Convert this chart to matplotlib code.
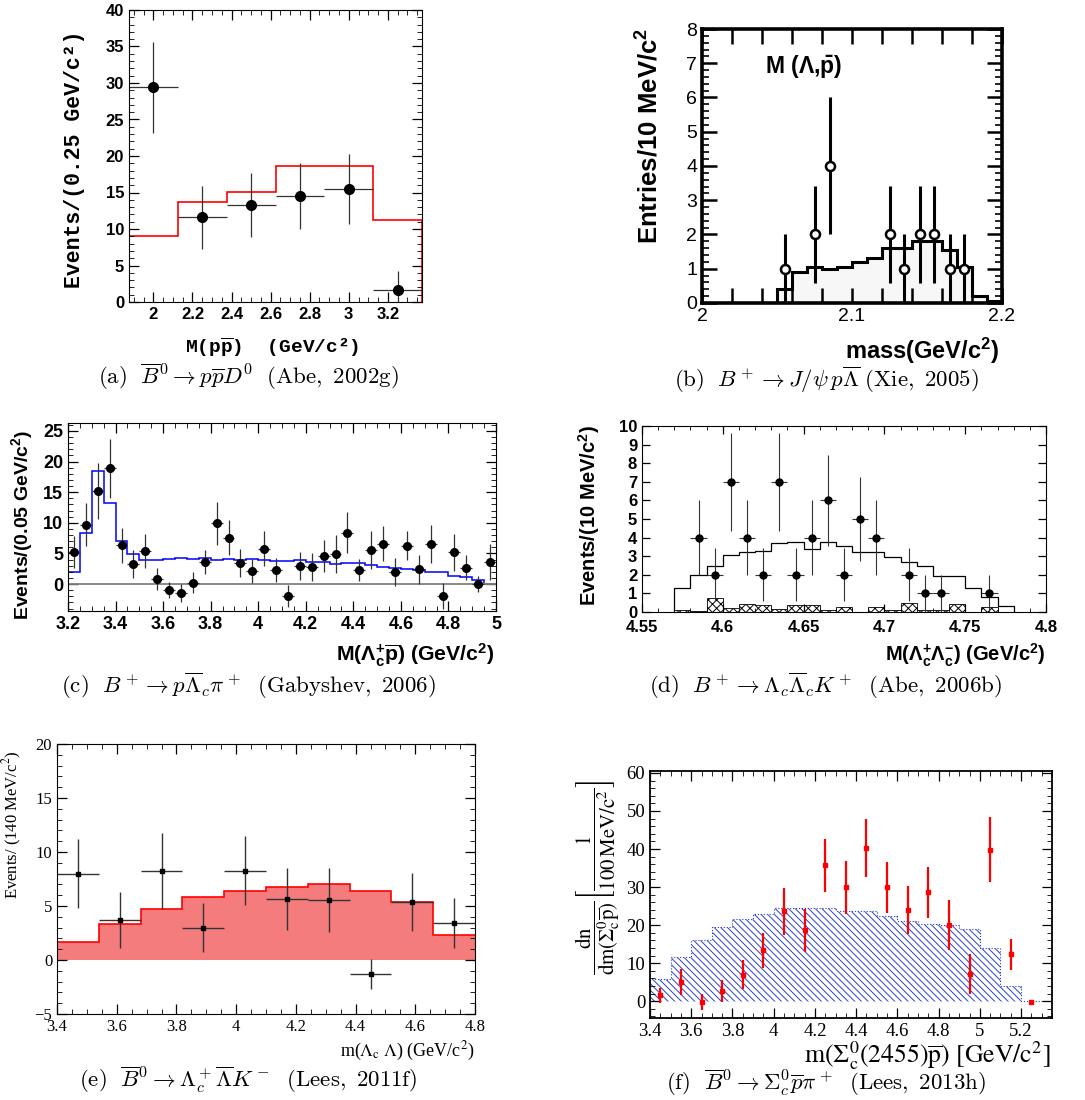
import numpy as np
import matplotlib
matplotlib.use("Agg")
import matplotlib.pyplot as plt
from matplotlib.ticker import MultipleLocator, FixedLocator, FuncFormatter

plt.rcParams.update({
    "mathtext.fontset": "custom",
    "mathtext.rm": "Liberation Sans:bold",
    "mathtext.it": "Liberation Sans:italic:bold",
    "mathtext.bf": "Liberation Sans:bold",
    "mathtext.tt": "Liberation Mono:bold",
    "hatch.linewidth": 0.7,
})

# ---------- (a) Abe 2002g ----------
a_x = [2.0, 2.25, 2.5, 2.75, 3.0, 3.25]
a_y = [29.4, 11.6, 13.3, 14.5, 15.5, 1.7]
a_err = [6.2, 4.3, 4.4, 4.5, 4.8, 2.6]
a_edges = [1.875, 2.125, 2.375, 2.625, 2.875, 3.125, 3.375]
a_fit = [9.1, 13.75, 15.1, 18.6, 18.6, 11.2]

# ---------- (b) Xie 2005 ----------
b_x = [2.055, 2.075, 2.085, 2.125, 2.135, 2.145, 2.155, 2.165, 2.175]
b_y = [1, 2, 4, 2, 1, 2, 2, 1, 1]
b_edges = [2.0, 2.05, 2.06, 2.07, 2.08, 2.09, 2.10, 2.11, 2.12, 2.13, 2.14,
           2.15, 2.16, 2.17, 2.18, 2.19, 2.20]
b_mc = [0.0, 0.4, 0.9, 1.05, 1.0, 1.05, 1.2, 1.3, 1.6, 1.6, 1.8, 1.8, 1.55,
        1.05, 0.2, 0.05]

# ---------- (c) Gabyshev 2006 ----------
c_x = [3.225, 3.275, 3.325, 3.375, 3.425, 3.475, 3.525, 3.575, 3.625, 3.675,
       3.725, 3.775, 3.825, 3.875, 3.925, 3.975, 4.025, 4.075, 4.125, 4.175,
       4.225, 4.275, 4.325, 4.375, 4.425, 4.475, 4.525, 4.575, 4.625, 4.675,
       4.725, 4.775, 4.825, 4.875, 4.925, 4.975]
c_y = [5.3, 9.7, 15.2, 18.9, 6.3, 3.3, 5.4, 0.9, -1.0, -1.5,
       0.2, 3.6, 9.9, 7.6, 3.4, 2.1, 5.8, 2.3, -2.0, 2.9,
       2.8, 4.6, 4.9, 8.4, 2.3, 5.5, 6.6, 2.0, 6.25, 2.4,
       6.6, -2.0, 5.2, 2.7, 0.05, 3.6]
c_err = [2.6, 3.5, 4.5, 4.8, 2.9, 2.3, 2.7, 1.8, 1.3, 1.5,
         1.7, 2.0, 3.5, 2.8, 2.3, 2.0, 2.9, 2.0, 1.8, 2.3,
         2.3, 2.6, 3.1, 3.4, 1.8, 3.1, 2.9, 2.3, 2.4, 2.4,
         3.1, 2.1, 3.0, 2.0, 1.3, 3.0]
c_edges = [3.2, 3.25, 3.3, 3.35, 3.4, 3.45, 3.5, 3.55, 3.6, 3.65, 3.7, 3.75,
           3.8, 3.85, 3.9, 3.95, 4.0, 4.05, 4.1, 4.15, 4.2, 4.25, 4.3, 4.35,
           4.4, 4.45, 4.5, 4.55, 4.6, 4.65, 4.7, 4.75, 4.8, 4.85, 4.9, 4.95, 5.0]
c_fit = [2.0, 8.3, 18.4, 13.3, 7.1, 4.9, 4.0, 4.0, 4.1, 4.2, 4.1, 4.2,
         4.0, 4.1, 4.0, 4.1, 4.0, 3.8, 3.7, 3.9, 3.6, 3.6, 3.2, 3.5,
         3.4, 3.1, 2.8, 2.6, 2.4, 2.3, 1.9, 1.9, 1.3, 1.1, 0.6, 0.0]

# ---------- (d) Abe 2006b ----------
d_x = [4.585, 4.595, 4.605, 4.615, 4.625, 4.635, 4.645, 4.655, 4.665, 4.675,
       4.685, 4.695, 4.715, 4.725, 4.735, 4.765]
d_y = [4, 2, 7, 4, 2, 7, 2, 4, 6, 2, 5, 4, 2, 1, 1, 1]
d_edges = [4.57, 4.58, 4.59, 4.60, 4.61, 4.62, 4.63, 4.64, 4.65, 4.66, 4.67,
           4.68, 4.69, 4.70, 4.71, 4.72, 4.73, 4.74, 4.75, 4.76, 4.77, 4.78]
d_sig = [1.3, 2.0, 2.5, 3.05, 3.2, 3.3, 3.7, 3.75, 3.4, 3.75, 3.55,
         3.2, 3.2, 2.95, 2.7, 2.45, 1.95, 1.95, 1.3, 0.8, 0.3]
d_bkg = [0.1, 0.05, 0.75, 0.2, 0.45, 0.35, 0.15, 0.35, 0.35, 0.1, 0.25,
         0.0, 0.25, 0.1, 0.5, 0.1, 0.1, 0.45, 0.0, 0.25, 0.0]

# ---------- (e) Lees 2011f ----------
e_x = [3.47, 3.61, 3.75, 3.89, 4.03, 4.17, 4.31, 4.45, 4.59, 4.73]
e_y = [8.0, 3.7, 8.25, 3.0, 8.25, 5.65, 5.55, -1.33, 5.4, 3.4]
e_err = [3.2, 2.6, 3.5, 2.3, 3.2, 2.9, 3.0, 1.4, 2.7, 2.3]
e_edges = [3.4, 3.54, 3.68, 3.82, 3.96, 4.10, 4.24, 4.38, 4.52, 4.66, 4.80]
e_fit = [1.64, 3.37, 4.76, 5.8, 6.4, 6.8, 7.0, 6.4, 5.4, 2.3]

# ---------- (f) Lees 2013h ----------
f_x = [3.45, 3.55, 3.65, 3.75, 3.85, 3.95, 4.05, 4.15, 4.25, 4.35, 4.45,
       4.55, 4.65, 4.75, 4.85, 4.95, 5.05, 5.15, 5.25]
f_y = [1.6, 5.0, -0.2, 2.6, 7.0, 13.4, 23.6, 18.6, 35.7, 29.9, 40.2,
       29.9, 24.0, 28.6, 20.0, 7.2, 39.8, 12.3, -0.2]
f_err = [2.0, 3.4, 2.2, 2.9, 3.8, 4.6, 6.1, 5.7, 7.0, 7.0, 7.6,
         6.6, 6.2, 6.8, 6.6, 5.2, 8.5, 4.0, 0.0]
f_edges = [3.4, 3.5, 3.6, 3.7, 3.8, 3.9, 4.0, 4.1, 4.2, 4.3, 4.4, 4.5, 4.6,
           4.7, 4.8, 4.9, 5.0, 5.1, 5.2, 5.3, 5.4]
f_mc = [5.8, 11.7, 16.1, 19.6, 21.7, 23.0, 24.4, 24.5, 24.6, 23.6, 23.6,
        22.5, 21.0, 20.3, 20.0, 19.1, 14.1, 3.9, 0.0, 0.0]

W, H = 1085, 1100
fig = plt.figure(figsize=(W / 100, H / 100), dpi=100)


def mkax(l, t, r, b):
    ax = fig.add_axes([l / W, 1 - b / H, (r - l) / W, (b - t) / H])
    ax.tick_params(which="both", direction="in", top=True, right=True)
    return ax


def ticklabels(ax, **kw):
    for lab in ax.get_xticklabels() + ax.get_yticklabels():
        lab.set(**kw)


gfmt = FuncFormatter(lambda v, p: f"{v:g}")

# (a)
ax = mkax(129, 10, 422, 302)
ax.stairs(a_fit, a_edges, color="red", lw=1.2)
ax.errorbar(a_x, a_y, yerr=a_err, xerr=0.125, fmt="o", color="k", ms=7,
            elinewidth=0.9, capsize=0, ecolor="#333")
ax.set_xlim(1.875, 3.375); ax.set_ylim(0, 40)
ax.xaxis.set_major_locator(MultipleLocator(0.2)); ax.xaxis.set_minor_locator(MultipleLocator(0.05))
ax.yaxis.set_major_locator(MultipleLocator(5)); ax.yaxis.set_minor_locator(MultipleLocator(1))
ax.xaxis.set_major_formatter(gfmt)
ax.tick_params(which="major", length=7, width=0.9); ax.tick_params(which="minor", length=3.5)
ticklabels(ax, family="Liberation Sans", weight="bold", size=12)
ax.set_ylabel("Events/(0.25 GeV/c²)", family="Liberation Mono", weight="bold", size=15.5)
ax.yaxis.set_label_coords(-0.150, 0.49)
ax.set_xlabel(r"M(p$\overline{\mathtt{p}}$)  (GeV/c²)", family="Liberation Mono", weight="bold", size=14)
ax.xaxis.set_label_coords(0.488, -0.115)

# (b)
ax = mkax(702, 29, 1002, 303)
ax.stairs(b_mc, b_edges, fill=True, color="#f7f7f7")
ax.stairs(b_mc, b_edges, color="k", lw=2.2)
ax.errorbar(b_x, b_y, yerr=np.sqrt(b_y), fmt="o", color="k", mfc="white", mec="k",
            mew=1.8, ms=6.5, elinewidth=2.2, capsize=0)
ax.set_xlim(2.0, 2.2); ax.set_ylim(0, 8)
ax.xaxis.set_major_locator(FixedLocator([2.0, 2.1, 2.2])); ax.xaxis.set_minor_locator(MultipleLocator(0.02))
ax.xaxis.set_major_formatter(gfmt)
ax.yaxis.set_major_locator(MultipleLocator(1)); ax.yaxis.set_minor_locator(MultipleLocator(0.2))
ax.tick_params(axis="x", which="both", length=11, width=1.8)
ax.tick_params(axis="y", which="major", length=11, width=1.8)
ax.tick_params(axis="y", which="minor", length=5, width=1.2)
for s in ax.spines.values():
    s.set_linewidth(2.6)
ticklabels(ax, family="Liberation Sans", size=14)
ax.set_ylabel("Entries/10 MeV/c$^2$", family="Liberation Sans", weight="bold", size=18.5)
ax.yaxis.set_label_coords(-0.13, 0.61)
ax.set_xlabel("mass(GeV/c$^2$)", family="Liberation Sans", weight="bold", size=17, ha="right")
ax.xaxis.set_label_coords(0.99, -0.12)
ax.text(0.21, 0.86, r"M ($\Lambda$,$\bar{\mathrm{p}}$)", transform=ax.transAxes,
        family="Liberation Sans", weight="bold", size=16.5, va="center")

# (c)
ax = mkax(68, 423, 496, 611)
ax.axhline(0, color="#808080", lw=1.3)
ax.stairs(c_fit, c_edges, color="blue", lw=1.1, baseline=None)
ax.errorbar(c_x, c_y, yerr=c_err, xerr=0.025, fmt="o", color="k", ms=5.5,
            elinewidth=0.9, capsize=0, ecolor="#333")
ax.set_xlim(3.2, 5.0); ax.set_ylim(-4.4, 26.3)
ax.xaxis.set_major_locator(MultipleLocator(0.2)); ax.xaxis.set_minor_locator(MultipleLocator(0.05))
ax.xaxis.set_major_formatter(gfmt)
ax.yaxis.set_major_locator(MultipleLocator(5)); ax.yaxis.set_minor_locator(MultipleLocator(1))
ax.tick_params(which="major", length=7, width=0.9); ax.tick_params(which="minor", length=3.5)
ticklabels(ax, family="Liberation Sans", weight="bold", size=13)
ax.set_ylabel("Events/(0.05 GeV/c$^2$)", family="Liberation Sans", weight="bold", size=14)
ax.yaxis.set_label_coords(-0.077, 0.46)
ax.set_xlabel(r"M($\Lambda_\mathrm{c}^\mathrm{+}\overline{\mathrm{p}}$) (GeV/c$^2$)",
              family="Liberation Sans", weight="bold", size=15.3, ha="right")
ax.xaxis.set_label_coords(0.998, -0.165)

# (d)
ax = mkax(642, 426, 1046, 612)
ax.stairs(d_sig, d_edges, color="k", lw=0.9)
ax.stairs(d_bkg, d_edges, fill=True, facecolor="white", edgecolor="k", hatch="xxxx", lw=0.6)
ax.errorbar(d_x, d_y, yerr=np.sqrt(d_y), xerr=0.005, fmt="o", color="k", ms=5,
            elinewidth=0.8, capsize=0, ecolor="#333")
ax.set_xlim(4.55, 4.8); ax.set_ylim(0, 10)
ax.xaxis.set_major_locator(MultipleLocator(0.05)); ax.xaxis.set_minor_locator(MultipleLocator(0.01))
ax.xaxis.set_major_formatter(gfmt)
ax.yaxis.set_major_locator(MultipleLocator(1))
ax.tick_params(which="major", length=6, width=0.9); ax.tick_params(which="minor", length=3)
ax.tick_params(axis="x", pad=6)
ticklabels(ax, family="Liberation Sans", weight="bold", size=12)
ax.set_ylabel("Events/(10 MeV/c$^2$)", family="Liberation Sans", weight="bold", size=14.5)
ax.yaxis.set_label_coords(-0.10, 0.52)
ax.set_xlabel(r"M($\Lambda_\mathrm{c}^\mathrm{+}\Lambda_\mathrm{c}^\mathrm{-}$) (GeV/c$^2$)",
              family="Liberation Sans", weight="bold", size=14.5, ha="right")
ax.xaxis.set_label_coords(0.998, -0.16)

# (e)
ax = mkax(57, 744, 475, 1014)
ax.stairs(e_fit, e_edges, fill=True, color="#f47c7c", lw=0)
ax.stairs(e_fit, e_edges, color="red", lw=1.2, baseline=None)
ax.errorbar(e_x, e_y, yerr=e_err, xerr=0.07, fmt="s", color="k", ms=3.2,
            elinewidth=1.0, capsize=0, ecolor="#333")
ax.set_xlim(3.4, 4.8); ax.set_ylim(-5, 20)
ax.xaxis.set_major_locator(MultipleLocator(0.2)); ax.xaxis.set_minor_locator(MultipleLocator(0.05))
ax.xaxis.set_major_formatter(gfmt)
ax.yaxis.set_major_locator(MultipleLocator(5)); ax.yaxis.set_minor_locator(MultipleLocator(1))
ax.tick_params(which="major", length=7, width=0.9); ax.tick_params(which="minor", length=3.5)
ticklabels(ax, family="Liberation Serif", size=12)
ax.set_ylabel("Events/ (140 MeV/c$^2$)", family="Liberation Serif", size=12, math_fontfamily="stix")
ax.yaxis.set_label_coords(-0.080, 0.70)
ax.set_xlabel(r"m($\Lambda_\mathrm{c}$ $\Lambda$) (GeV/c$^2$)", family="Liberation Serif",
              size=13, ha="right", math_fontfamily="stix")
ax.xaxis.set_label_coords(1.0, -0.095)

# (f)
ax = mkax(650, 771, 1052, 1018)
ax.stairs(f_mc, f_edges, fill=True, facecolor="none", edgecolor="#2a3fd0",
          hatch="\\\\\\\\\\", lw=0.8, ls=":")
ax.errorbar(f_x, f_y, yerr=f_err, fmt="s", color="red", ms=2.5,
            elinewidth=1.6, capsize=0)
ax.set_xlim(3.4, 5.35); ax.set_ylim(-4.4, 60.5)
ax.xaxis.set_major_locator(MultipleLocator(0.2)); ax.xaxis.set_minor_locator(MultipleLocator(0.05))
ax.xaxis.set_major_formatter(gfmt)
ax.yaxis.set_major_locator(MultipleLocator(10)); ax.yaxis.set_minor_locator(MultipleLocator(2))
ax.tick_params(which="major", length=7, width=0.9); ax.tick_params(which="minor", length=3.5)
for s in ax.spines.values():
    s.set_linewidth(1.3)
ticklabels(ax, family="Liberation Serif", size=13.5)
ax.set_ylabel(r"$\dfrac{\mathrm{dn}}{\mathrm{dm}(\Sigma_\mathrm{c}^0\overline{\mathrm{p}})}"
              r"\left[\dfrac{1}{100\,\mathrm{MeV/c^2}}\right]$", size=15, math_fontfamily="stix")
ax.yaxis.set_label_coords(-0.07, 0.57)
ax.set_xlabel(r"$\mathrm{m(\Sigma_c^0(2455)\overline{p})}\ \left[\mathrm{GeV/c^2}\right]$",
              size=18.5, ha="right", math_fontfamily="stix")
ax.xaxis.set_label_coords(0.995, -0.085)

# captions
caps = [
    (248, 377, r"$\mathrm{(a)}\ \ \overline{B}^0 \rightarrow p\overline{p}D^0\ \ \mathrm{(Abe,\ 2002g)}$"),
    (826, 380, r"$\mathrm{(b)}\ \ B^+ \rightarrow J/\psi\,p\overline{\Lambda}\ \mathrm{(Xie,\ 2005)}$"),
    (248, 686, r"$\mathrm{(c)}\ \ B^+ \rightarrow p\overline{\Lambda}_c\pi^+\ \ \mathrm{(Gabyshev,\ 2006)}$"),
    (826, 686, r"$\mathrm{(d)}\ \ B^+ \rightarrow \Lambda_c\overline{\Lambda}_cK^+\ \ \mathrm{(Abe,\ 2006b)}$"),
    (248, 1080, r"$\mathrm{(e)}\ \ \overline{B}^0 \rightarrow \Lambda_c^+\overline{\Lambda}K^-\ \ \mathrm{(Lees,\ 2011f)}$"),
    (826, 1083, r"$\mathrm{(f)}\ \ \overline{B}^0 \rightarrow \Sigma_c^0\overline{p}\pi^+\ \ \mathrm{(Lees,\ 2013h)}$"),
]
for x, y, s in caps:
    fig.text(x / W, 1 - y / H, s, ha="center", va="center", size=16.5, math_fontfamily="cm")

fig.savefig("out.png", dpi=100)
